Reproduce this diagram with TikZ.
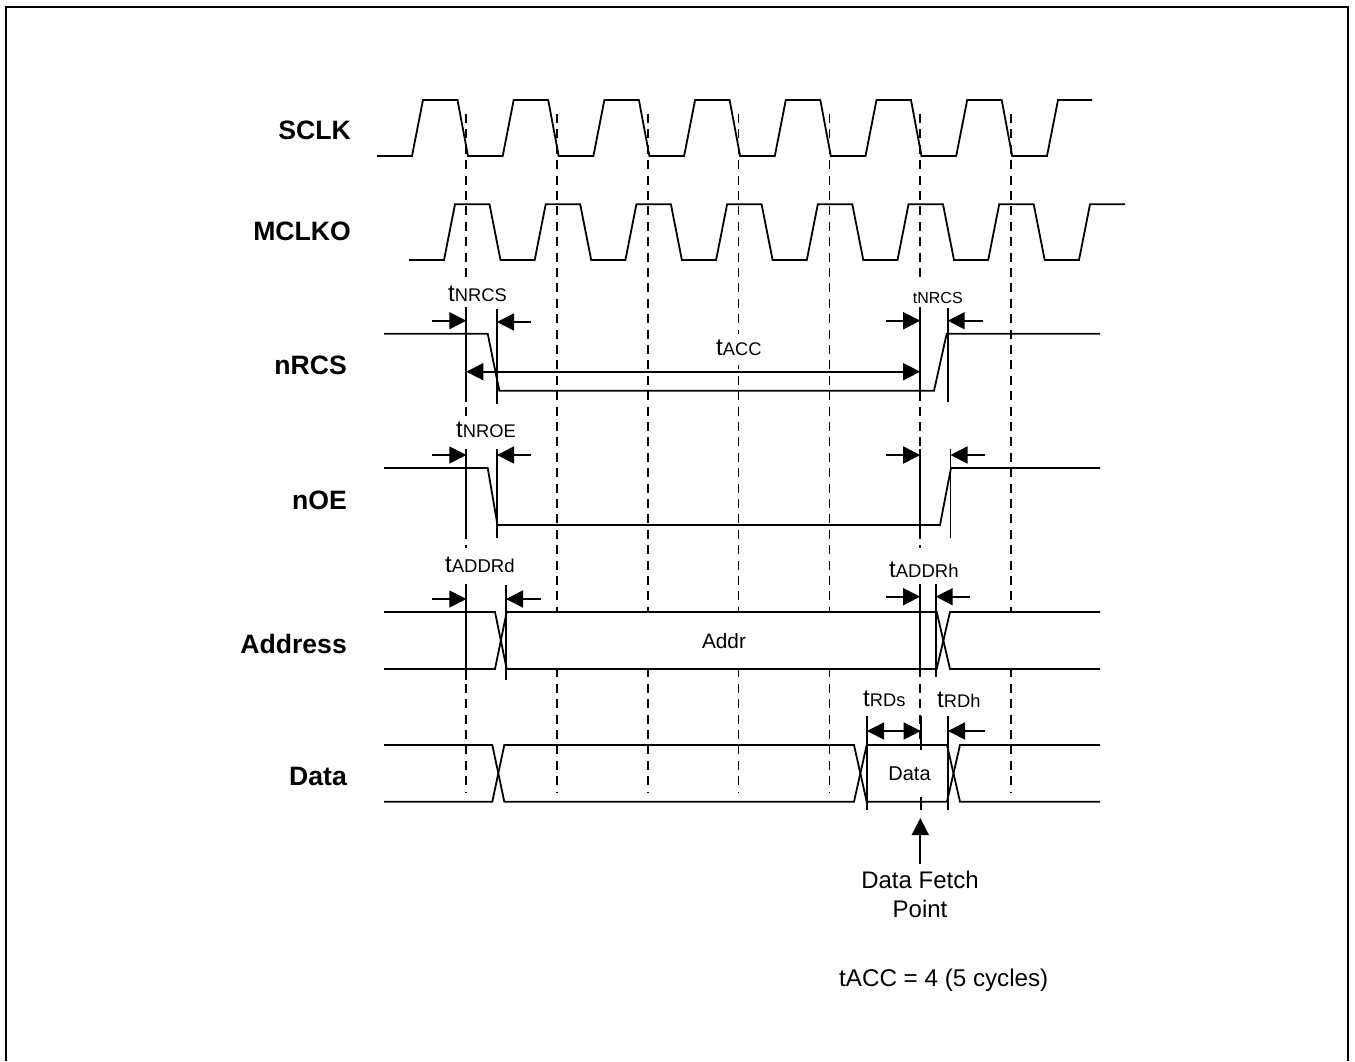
\documentclass[tikz,border=0pt]{standalone}
\usepackage{fontspec}
\setmainfont{Liberation Sans}
\usetikzlibrary{arrows.meta}
\newcommand{\fs}[1]{\fontsize{#1}{#1}\selectfont}
\newcommand{\tlab}[3]{{\fs{#1}t}{\fs{#2}#3}}
\tikzset{
  sig/.style={line width=1.8pt,line join=miter},
  guide/.style={line width=1.7pt,dash pattern=on 9pt off 6.4pt},
  tick/.style={line width=1.7pt},
  dim/.style={line width=1.7pt},
  hd/.style={-{Triangle[length=17pt,width=17pt]}},
  hdd/.style={{Triangle[length=17pt,width=17pt]}-{Triangle[length=17pt,width=17pt]}},
  rowlab/.style={anchor=base east,inner sep=0pt,font=\fs{26.6}\bfseries},
  tl/.style={anchor=base west,inner sep=0pt},
  mid/.style={anchor=base,inner sep=0pt}
}
\begin{document}
\begin{tikzpicture}[x=1pt,y=-1pt]
\useasboundingbox (0,0) rectangle (1355,1061);
\fill[white] (0,0) rectangle (1355,1061);
% frame
\draw[line width=2pt] (6,1061) -- (6,6.5) -- (1347.5,6.5) -- (1347.5,1061);
% guides
\foreach \g in {466.3,557,647.7,738.5,829.5,920.2,1011}
  \draw[guide] (\g,114) -- (\g,792.5);
% masks
\fill[white] (508,612) rectangle (919,669);
\fill[white] (922,612) rectangle (1100,669);
\fill[white] (868,746) rectangle (947,801);
\fill[white] (448,279) rectangle (507,307);
\fill[white] (913,279) rectangle (962,307);
\fill[white] (716,334) rectangle (761,365);
\fill[white] (456,416) rectangle (514,449);
\fill[white] (445,548) rectangle (515,584);
\fill[white] (889,548) rectangle (958,584);
% SCLK
\draw[sig] (377,156) -- (412,156)
  \foreach \k in {0,...,6} { -- ({412+90.7*\k},156) -- ({423+90.7*\k},100) -- ({457.5+90.7*\k},100) -- ({468+90.7*\k},156) }
  -- (1047,156) -- (1058,100) -- (1092,100);
% MCLKO
\draw[sig] (409,260) -- (444,260)
  \foreach \k in {0,...,6} { -- ({444+90.7*\k},260) -- ({455+90.7*\k},204.3) -- ({489.5+90.7*\k},204.3) -- ({500.5+90.7*\k},260) }
  -- (1079,260) -- (1090,204.3) -- (1125,204.3);
% nRCS
\draw[sig] (384,333.7) -- (487.7,333.7) -- (499.3,390.7) -- (934,390.7) -- (946.7,333.7) -- (1100,333.7);
\draw[tick] (466.3,307) -- (466.3,402);
\draw[tick] (497,309) -- (497,404);
\draw[tick] (920.2,308) -- (920.2,401);
\draw[tick] (947.7,308) -- (947.7,402);
\draw[dim,hd] (432,320.7) -- (466.3,320.7);
\draw[dim,hd] (531,322) -- (497,322);
\draw[dim,hd] (885.7,320.7) -- (920.2,320.7);
\draw[dim,hd] (982.7,320.7) -- (947.7,320.7);
\draw[dim,hdd] (466.3,371.7) -- (920.2,371.7);
% nOE
\draw[sig] (384,468) -- (487.7,468) -- (497.5,525) -- (940,525) -- (951,468) -- (1100,468);
\draw[tick] (466.3,449) -- (466.3,538);
\draw[tick] (497,449) -- (497,538);
\draw[tick] (920.2,449) -- (920.2,538);
\draw[tick] (950.5,449) -- (950.5,538);
\draw[dim,hd] (432,455) -- (466.3,455);
\draw[dim,hd] (531,455) -- (497,455);
\draw[dim,hd] (885.7,455) -- (920.2,455);
\draw[dim,hd] (985,455) -- (950.5,455);
% Address
\draw[sig] (384,612) -- (495,612) -- (506.7,669) -- (936.7,669) -- (950,612) -- (1100,612);
\draw[sig] (384,669) -- (495,669) -- (506.7,612) -- (936.7,612) -- (950,669) -- (1100,669);
\draw[tick] (466.3,584) -- (466.3,680);
\draw[tick] (506,585) -- (506,680);
\draw[tick] (920.2,584) -- (920.2,677);
\draw[tick] (935.7,584) -- (935.7,677);
\draw[dim,hd] (432,599) -- (466.3,599);
\draw[dim,hd] (540.7,599) -- (506,599);
\draw[dim,hd] (885.7,596.7) -- (920.2,596.7);
\draw[dim,hd] (970,596.7) -- (935.7,596.7);
% Data
\draw[sig] (384,745) -- (492.3,745) -- (504.3,801.7) -- (854,801.7) -- (866.7,745) -- (947,745) -- (960,801.7) -- (1100,801.7);
\draw[sig] (384,801.7) -- (492.3,801.7) -- (504.3,745) -- (854,745) -- (866.7,801.7) -- (947,801.7) -- (960,745) -- (1100,745);
\draw[tick] (867,716) -- (867,810);
\draw[tick] (948,716) -- (948,810);
\draw[tick] (920.7,716) -- (920.7,750);
\draw[tick] (920.7,797) -- (920.7,810);
\draw[dim,hdd] (867,731) -- (920.7,731);
\draw[dim,hd] (985,731) -- (948,731);
\coordinate (fetchtail) at (920.3,864);
\coordinate (fetchtip) at (920.3,818);
\draw[dim,hd] (fetchtail) -- (fetchtip);
% row labels
\node[rowlab] (lsclk) at (351,139.5) {SCLK};
\node[rowlab] (lmclko) at (351,240) {MCLKO};
\node[rowlab] (lnrcs) at (347,374) {nRCS};
\node[rowlab] (lnoe) at (347,509) {nOE};
\node[rowlab] (laddress) at (347,653) {Address};
\node[rowlab] (ldata) at (347,785) {Data};
% timing labels
\node[tl] (t1) at (448,301) {\tlab{24}{18.3}{NRCS}};
\node[tl] (t2) at (912.7,303.3) {\tlab{16}{16}{NRCS}};
\node[tl] (t3) at (716,355.7) {\tlab{24}{18.3}{ACC}};
\node[tl] (t4) at (456,437) {\tlab{24}{18.3}{NROE}};
\node[tl] (t5) at (445,572.3) {\tlab{24}{18.5}{ADDRd}};
\node[tl] (t6) at (889,577) {\tlab{24}{18.5}{ADDRh}};
\node[tl] (t7) at (863,706) {\tlab{24}{18.3}{RDs}};
\node[tl] (t8) at (937,707) {\tlab{24}{18.3}{RDh}};
% text
\node[mid,font=\fs{20.8}] (addr) at (724,648) {Addr};
\node[mid,font=\fs{20}] (datatxt) at (909.5,780) {Data};
\node[mid,font=\fs{24}] (df1) at (920,888) {Data Fetch};
\node[mid,font=\fs{24}] (df2) at (920,917) {Point};
\node[tl,font=\fs{24.2}] (note) at (839,986) {tACC = 4 (5 cycles)};
\end{tikzpicture}
\end{document}
